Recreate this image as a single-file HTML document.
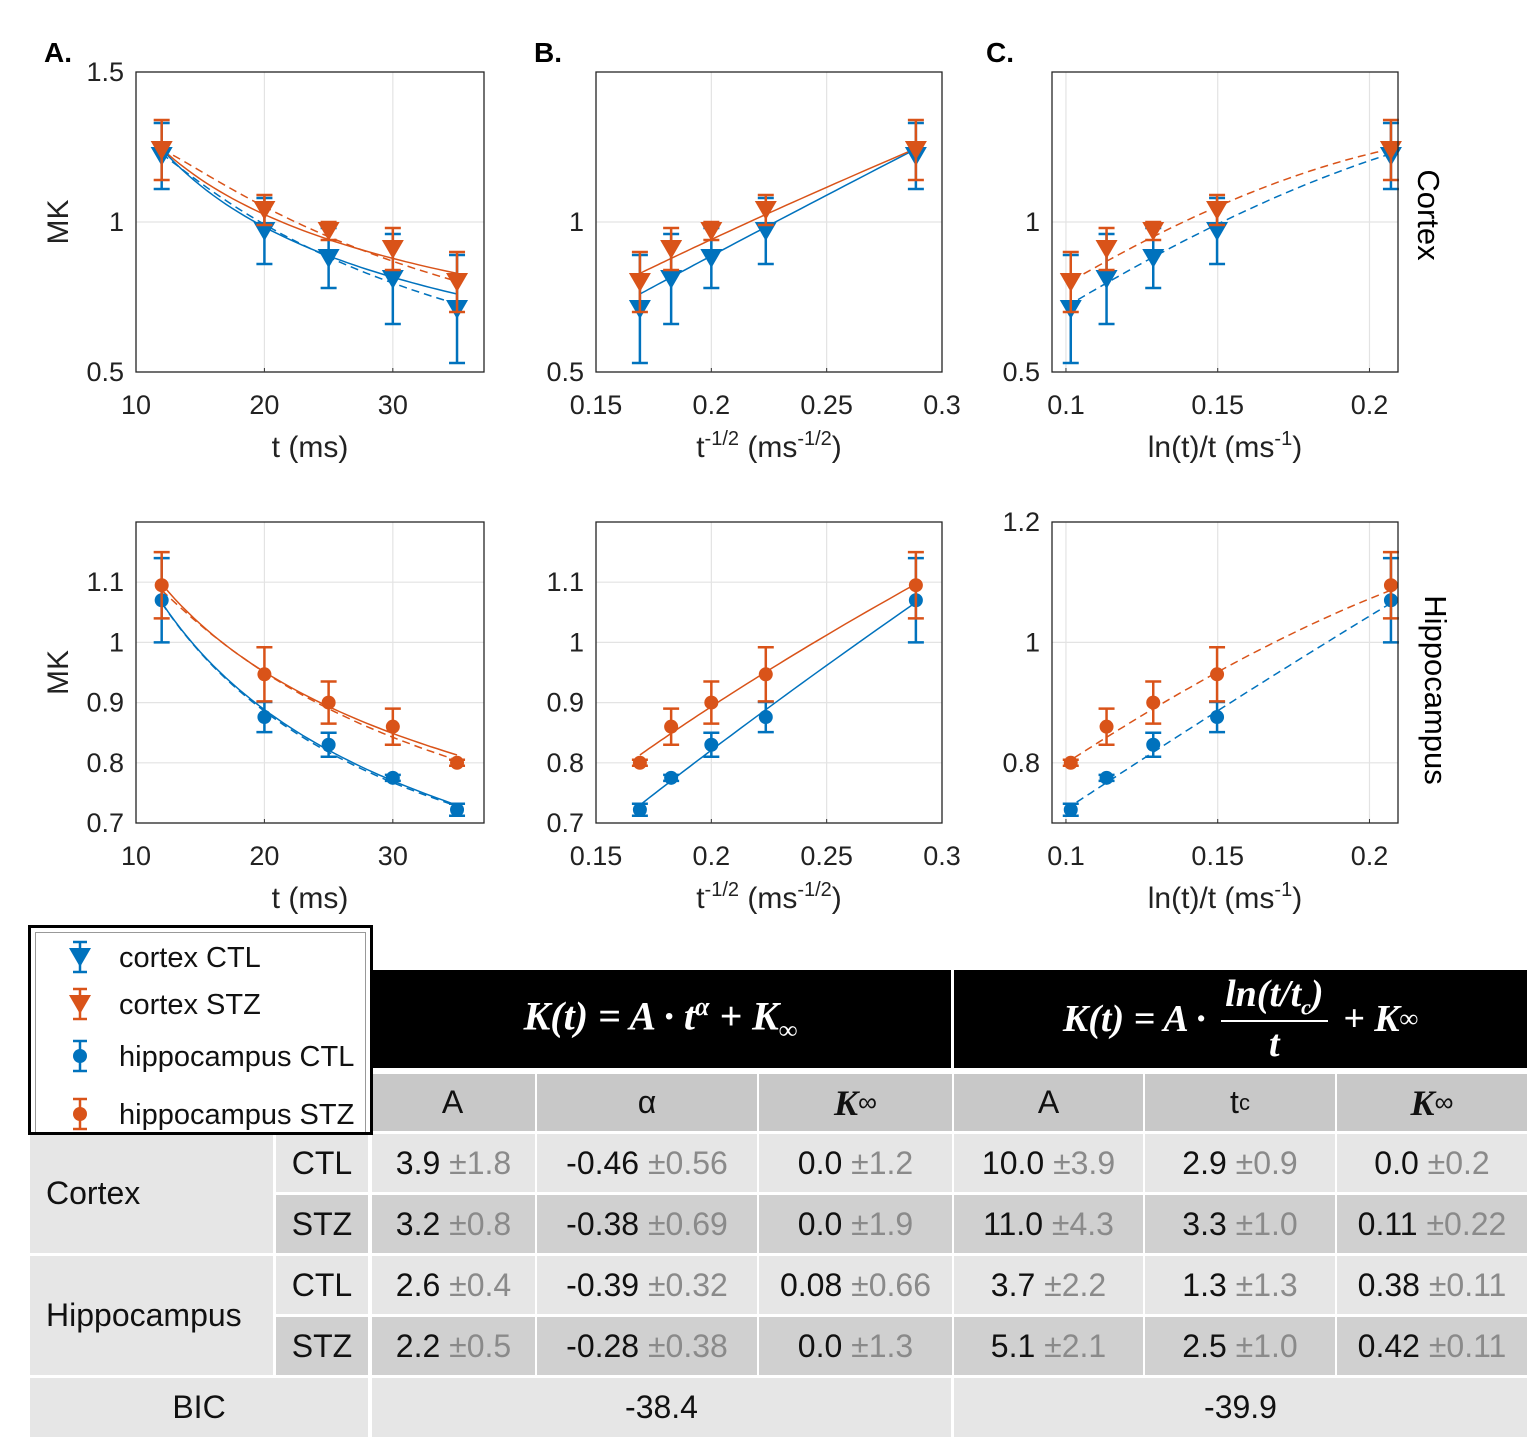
<!DOCTYPE html>
<html><head><meta charset="utf-8"><style>
body{margin:0;background:#fff;width:1533px;height:1452px;position:relative;overflow:hidden;font-family:"Liberation Sans",sans-serif}
svg{position:absolute;left:0;top:0}
.c{position:absolute;display:flex;align-items:center;justify-content:center;font-size:32px;color:#111;box-sizing:border-box;white-space:pre}
.g{color:#8a8a8a}
.l{background:#e6e6e6}.d{background:#d0d0d0}.h{background:#c8c8c8}
.m{font-family:"Liberation Serif",serif;font-style:italic;font-weight:bold;color:#fff}
</style></head><body>
<svg id="plot" width="1533" height="1452"></svg>
<div id="table"></div>
<div style="position:absolute;left:28px;top:925px;width:345px;height:210px;border:3px solid #000;box-sizing:border-box;background:#fff">
 <div style="position:absolute;left:4px;top:4px;right:4px;bottom:0;border:1px solid #999;border-bottom:none"></div>
 <svg width="345" height="210" style="position:absolute;left:-3px;top:-3px" id="legsvg"></svg>
</div>
<script>
const NS="http://www.w3.org/2000/svg";
const times=[12,20,25,30,35];
const ctxCTL=[1.22,0.97,0.88,0.81,0.71], ctxCTLerr=[0.11,0.11,0.10,0.15,0.18];
const ctxSTZ=[1.24,1.04,0.97,0.91,0.80], ctxSTZerr=[0.10,0.05,0.03,0.07,0.10];
const hipCTL=[1.07,0.876,0.83,0.775,0.722], hipCTLerr=[0.07,0.025,0.02,0.005,0.01];
const hipSTZ=[1.095,0.947,0.90,0.86,0.80], hipSTZerr=[0.055,0.045,0.035,0.03,0.005];
// fit parameters used for curves
const powA=[3.9,3.2,2.6,2.2], powAlpha=[-0.46,-0.38,-0.39,-0.28], powK=[0.0,0.0,0.08,0.0];
const logA=[10.0,11.0,3.7,5.1], logTc=[2.75,3.3,1.3,2.5], logK=[0.0,0.06,0.38,0.42];
const BLUE="#0072bd", ORANGE="#d95319";
const svg=document.getElementById('plot');
function el(p,tag,at,name){const e=document.createElementNS(NS,tag);for(const k in at)e.setAttribute(k,at[k]);
 
 
 p.appendChild(e);return e;}
function txt(p,x,y,s,at,name){const e=el(p,'text',Object.assign({x:x,y:y,'font-size':27,fill:'#222','font-family':'Liberation Sans, sans-serif'},at||{}),name);e.innerHTML=s;return e;}
const cols=[{L:136,R:484,xmin:10,xmax:37.1,xt:[10,20,30],f:t=>t,xl:'t (ms)'},
 {L:596,R:942,xmin:0.15,xmax:0.3,xt:[0.15,0.2,0.25,0.3],f:t=>Math.pow(t,-0.5),xl:'t<tspan dy="-12" font-size="20">-1/2</tspan><tspan dy="12"> (ms</tspan><tspan dy="-12" font-size="20">-1/2</tspan><tspan dy="12">)</tspan>'},
 {L:1052,R:1398,xmin:0.0954,xmax:0.2094,xt:[0.1,0.15,0.2],f:t=>Math.log(t)/t,xl:'ln(t)/t (ms<tspan dy="-12" font-size="20">-1</tspan><tspan dy="12">)</tspan>'}];
const rows=[{T:72,B:372,ymin:0.5,ymax:1.5,yt:[[0.5,1,1.5],[0.5,1],[0.5,1]],series:[[ctxCTL,ctxCTLerr,BLUE,0],[ctxSTZ,ctxSTZerr,ORANGE,1]],mk:'tri',name:'cortex'},
 {T:522,B:823,ymin:0.7,ymax:1.2,yt:[[0.7,0.8,0.9,1,1.1],[0.7,0.8,0.9,1,1.1],[0.8,1,1.2]],series:[[hipCTL,hipCTLerr,BLUE,2],[hipSTZ,hipSTZerr,ORANGE,3]],mk:'dot',name:'hippocampus'}];
function marker(p,x,y,c,type,name){
 if(type==='tri')el(p,'path',{d:`M${x-11},${y-9} L${x+11},${y-9} L${x},${y+10} Z`,fill:c},name);
 else el(p,'circle',{cx:x,cy:y,r:7,fill:c},name);}
rows.forEach((r,ri)=>{cols.forEach((c,ci)=>{
 const g=el(svg,'g',{},`panel-${r.name}-${ci}`);
 const X=v=>c.L+(v-c.xmin)/(c.xmax-c.xmin)*(c.R-c.L), Y=v=>r.B-(v-r.ymin)/(r.ymax-r.ymin)*(r.B-r.T);
 el(g,'rect',{x:c.L,y:r.T,width:c.R-c.L,height:r.B-r.T,fill:'#fff'},'plot-bg');
 c.xt.forEach(v=>{const x=X(v);el(g,'line',{x1:x,x2:x,y1:r.T,y2:r.B,stroke:'#e3e3e3','stroke-width':1.2},'x-grid');
  el(g,'line',{x1:x,x2:x,y1:r.B,y2:r.B-4,stroke:'#333'},'x-tick');
  txt(g,x,r.B+42,String(v),{'text-anchor':'middle'},'x-tick-label');});
 r.yt[ci].forEach(v=>{const y=Y(v);el(g,'line',{x1:c.L,x2:c.R,y1:y,y2:y,stroke:'#e3e3e3','stroke-width':1.2},'y-grid');
  txt(g,c.L-12,y+9,String(v),{'text-anchor':'end'},'y-tick-label');});
 r.series.forEach(s=>{const k=s[3];
  const pw=[],lg=[];
  for(let t=12;t<=35.01;t+=0.5){pw.push([X(c.f(t)),Y(powA[k]*Math.pow(t,powAlpha[k])+powK[k])]);
   lg.push([X(c.f(t)),Y(logA[k]*Math.log(t/logTc[k])/t+logK[k])]);}
  const ds=a=>'M'+a.map(p=>p[0].toFixed(1)+','+p[1].toFixed(1)).join('L');
  if(ci<2)el(g,'path',{d:ds(pw),fill:'none',stroke:s[2],'stroke-width':1.5},'power-fit-line');
  if(ci!==1)el(g,'path',{d:ds(lg),fill:'none',stroke:s[2],'stroke-width':1.5,'stroke-dasharray':'8,5'},'log-fit-line');
 });
 r.series.forEach(s=>{times.forEach((t,i)=>{const x=X(c.f(t)),y=Y(s[0][i]),e=s[1][i];
  const y1=Y(s[0][i]+e),y2=Y(s[0][i]-e);
  el(g,'line',{x1:x,x2:x,y1:y1,y2:y2,stroke:s[2],'stroke-width':2.5},'error-bar');
  el(g,'line',{x1:x-8,x2:x+8,y1:y1,y2:y1,stroke:s[2],'stroke-width':2.5},'error-cap');
  el(g,'line',{x1:x-8,x2:x+8,y1:y2,y2:y2,stroke:s[2],'stroke-width':2.5},'error-cap');
  marker(g,x,y,s[2],r.mk,'data-point');});});
 el(g,'rect',{x:c.L,y:r.T,width:c.R-c.L,height:r.B-r.T,fill:'none',stroke:'#262626','stroke-width':1.3},'axes-box');
 txt(g,(c.L+c.R)/2,r.B+85,c.xl,{'text-anchor':'middle','font-size':30},'x-axis-title');
 if(ci===0)txt(g,68,(r.T+r.B)/2,'MK',{'text-anchor':'middle','font-size':30,transform:`rotate(-90 68 ${(r.T+r.B)/2})`},'y-axis-title');
});});
txt(svg,44,62,'A.',{'font-size':28,'font-weight':'bold',fill:'#000'},'panel-label-a');
txt(svg,534,62,'B.',{'font-size':28,'font-weight':'bold',fill:'#000'},'panel-label-b');
txt(svg,986,62,'C.',{'font-size':28,'font-weight':'bold',fill:'#000'},'panel-label-c');
txt(svg,1418,215,'Cortex',{'font-size':31,'text-anchor':'middle',fill:'#000',transform:'rotate(90 1418 215)'},'row-label-cortex');
txt(svg,1425,690,'Hippocampus',{'font-size':31,'text-anchor':'middle',fill:'#000',transform:'rotate(90 1425 690)'},'row-label-hippocampus');
const lg=document.getElementById('legsvg');
const legItems=[['cortex CTL',BLUE,'tri',32],['cortex STZ',ORANGE,'tri',79],['hippocampus CTL',BLUE,'dot',131],['hippocampus STZ',ORANGE,'dot',189]];
legItems.forEach(it=>{const x=52,y=it[3];
 el(lg,'line',{x1:x,x2:x,y1:y-15,y2:y+15,stroke:it[1],'stroke-width':2.5},'legend-errorbar');
 el(lg,'line',{x1:x-7,x2:x+7,y1:y-15,y2:y-15,stroke:it[1],'stroke-width':2.5},'legend-cap');
 el(lg,'line',{x1:x-7,x2:x+7,y1:y+15,y2:y+15,stroke:it[1],'stroke-width':2.5},'legend-cap');
 marker(lg,x,y,it[1],it[2],'legend-marker');
 txt(lg,91,y+10,it[0],{'font-size':29,fill:'#111'},'legend-entry');});
const T=document.getElementById('table');
function cell(x,y,w,h,cls,html,name,st){const d=document.createElement('div');d.className='c '+cls;
 d.style.cssText=`left:${x}px;top:${y}px;width:${w}px;height:${h}px;`+(st||'');d.innerHTML=html;
 
 
 T.appendChild(d);}
cell(370,970,581,98,'','<span style="background:#000;position:absolute;inset:0"></span><span class="m" style="position:relative;font-size:40px">K(t) = A · t<sup style="font-size:26px">α</sup> + K<sub style="font-size:26px;font-style:normal">∞</sub></span>','power-law-header');
cell(954,970,573,98,'','<span style="background:#000;position:absolute;inset:0"></span><span class="m" style="position:relative;font-size:38px;display:flex;align-items:center">K(t) = A · <span style="display:inline-flex;flex-direction:column;align-items:center;margin:0 6px"><span style="border-bottom:2px solid #fff;padding:0 4px">ln(t/t<sub style="font-size:22px">c</sub>)</span><span>t</span></span> + K<sub style="font-size:26px;font-style:normal">∞</sub></span>','log-law-header');
const cx=[370,535,757,952,1143,1335,1527];
const hdr=['A','α','<i style="font-family:Liberation Serif,serif;font-weight:bold;font-size:36px">K</i><sub>∞</sub>','A','t<sub style="font-size:22px">c</sub>','<i style="font-family:Liberation Serif,serif;font-weight:bold;font-size:36px">K</i><sub>∞</sub>'];
hdr.forEach((h,i)=>cell(cx[i]+(i?2:0),1074,cx[i+1]-cx[i]-(i?2:0),57,'h',h,'column-header'));
const vals=[['3.9','±1.8','-0.46','±0.56','0.0','±1.2','10.0','±3.9','2.9','±0.9','0.0','±0.2'],
 ['3.2','±0.8','-0.38','±0.69','0.0','±1.9','11.0','±4.3','3.3','±1.0','0.11','±0.22'],
 ['2.6','±0.4','-0.39','±0.32','0.08','±0.66','3.7','±2.2','1.3','±1.3','0.38','±0.11'],
 ['2.2','±0.5','-0.28','±0.38','0.0','±1.3','5.1','±2.1','2.5','±1.0','0.42','±0.11']];
const ry=[1134,1195,1256,1317];
cell(30,1134,243,119,'l','Cortex','cortex-label','justify-content:flex-start;padding-left:16px');
cell(30,1256,243,119,'l','Hippocampus','hippocampus-label','justify-content:flex-start;padding-left:16px');
vals.forEach((r,ri)=>{const cls=ri%2?'d':'l';
 cell(276,ry[ri],92,58,cls,ri%2?'STZ':'CTL','group-cell');
 for(let i=0;i<6;i++)cell(cx[i]+2,ry[ri],cx[i+1]-cx[i]-2,58,cls,r[2*i]+' <span class="g">'+r[2*i+1]+'</span>','value-cell');});
cell(30,1378,338,59,'l','BIC','bic-label');
cell(372,1378,579,59,'l','-38.4','bic-power');
cell(954,1378,573,59,'l','-39.9','bic-log');
</script>
</body></html>
